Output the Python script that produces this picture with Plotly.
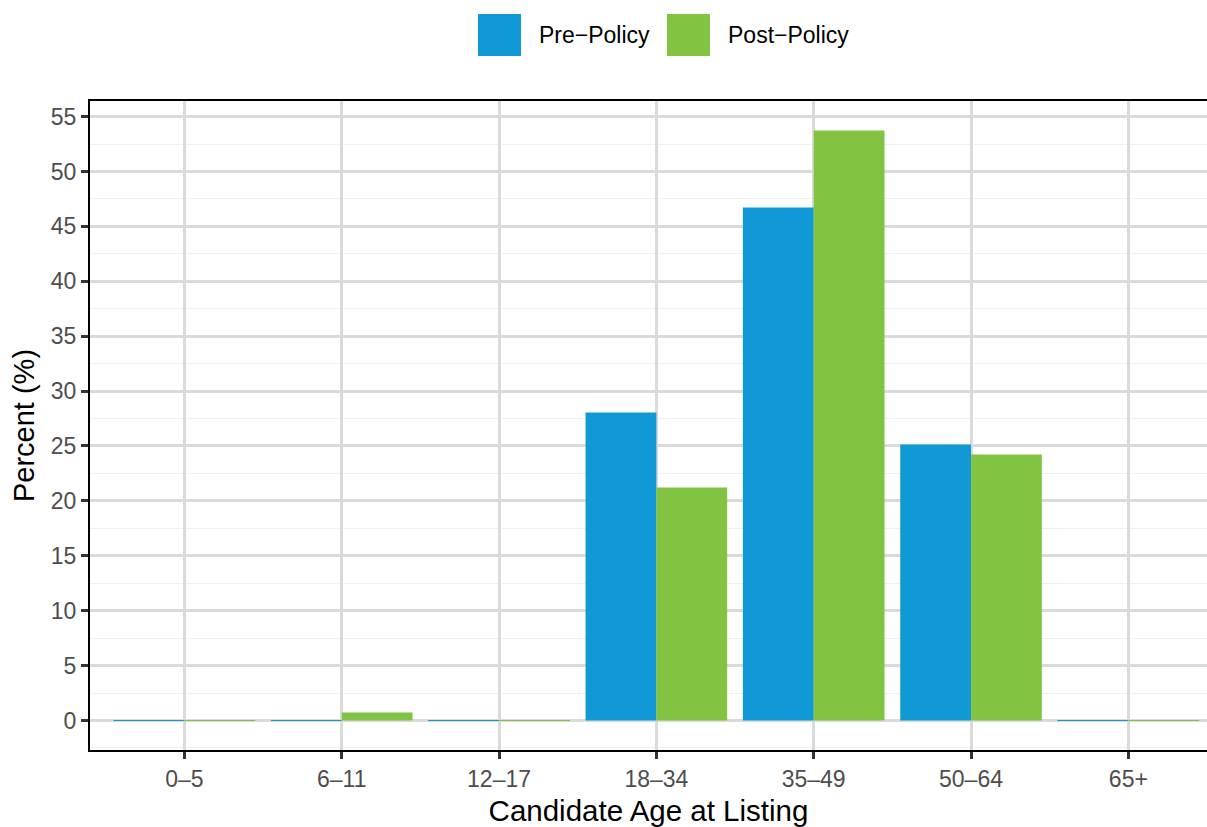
import plotly.graph_objects as go

categories = ["0\u20135", "6\u201311", "12\u201317", "18\u201334", "35\u201349", "50\u201364", "65+"]
pre_policy = [0.0, 0.0, 0.0, 28.05, 46.72, 25.14, 0.0]
post_policy = [0.0, 0.73, 0.0, 21.22, 53.73, 24.23, 0.0]
series_names = ["Pre\u2212Policy", "Post\u2212Policy"]
colors = ["#1199D6", "#82C341"]

FONT = "Liberation Sans, Arial, Helvetica, sans-serif"

fig = go.Figure()
for name, vals, col in zip(series_names, [pre_policy, post_policy], colors):
    fig.add_trace(go.Bar(
        x=categories, y=vals, name=name,
        marker=dict(color=col,
                    line=dict(color=col, width=[1.0 if v == 0 else 0 for v in vals])),
        showlegend=False,
    ))

ymax = max(max(pre_policy), max(post_policy))
pad = 0.05 * ymax

fig.update_layout(
    width=1207, height=827,
    margin=dict(l=90, r=0, t=101, b=77),
    paper_bgcolor="white", plot_bgcolor="white",
    barmode="group", bargap=0.1, bargroupgap=0,
    font=dict(family=FONT, color="#4d4d4d", size=23),
)

fig.update_xaxes(
    type="category", range=[-0.6, len(categories) - 0.5],
    showgrid=True, gridcolor="#dadada", gridwidth=2.6,
    showline=True, linecolor="black", linewidth=2, mirror=True,
    ticks="outside", ticklen=7, tickwidth=2.6, tickcolor="#333333",
    tickfont=dict(size=23, color="#4d4d4d", family=FONT),
    title=dict(text="Candidate Age at Listing", font=dict(size=29.5, color="black", family=FONT), standoff=12),
)
fig.update_yaxes(
    range=[-pad, ymax + pad], dtick=5, tick0=0,
    showgrid=True, gridcolor="#dadada", gridwidth=2.6, zeroline=False,
    minor=dict(dtick=2.5, showgrid=True, gridcolor="#f0f0f0", gridwidth=1.3),
    showline=True, linecolor="black", linewidth=2, mirror=False,
    ticks="outside", ticklen=7, tickwidth=2.6, tickcolor="#333333",
    tickfont=dict(size=23, color="#4d4d4d", family=FONT),
    title=dict(text="Percent (%)", font=dict(size=29, color="black", family=FONT), standoff=8),
)

# Custom legend at top (large square keys)
key_x = [478, 667]
for i, (name, col) in enumerate(zip(series_names, colors)):
    fig.add_shape(type="rect", xref="paper", yref="paper",
                  x0=(key_x[i] - 90) / 1117, x1=(key_x[i] + 43 - 90) / 1117,
                  y0=(750 - 56) / 649, y1=(750 - 14) / 649,
                  fillcolor=col, line=dict(width=0))
    fig.add_annotation(xref="paper", yref="paper",
                       x=(key_x[i] + 59 - 90) / 1117, y=(750 - 35) / 649,
                       text=name, showarrow=False, xanchor="left", yanchor="middle",
                       font=dict(size=23, color="black", family=FONT))

fig.write_html("out.html", config={"displayModeBar": False},
               post_script="document.body.style.margin='0';document.body.style.overflow='hidden';")
